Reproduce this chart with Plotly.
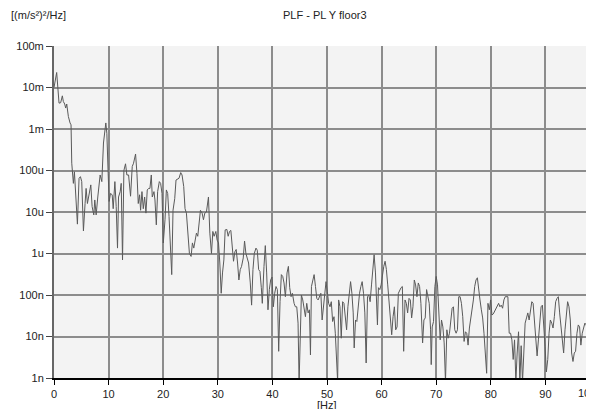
import plotly.graph_objects as go

title_text = "PLF - PL Y floor3"
y_unit = "[(m/s²)²/Hz]"
x_unit = "[Hz]"

freq_hz = [
    0.00, 0.49, 0.92, 1.22, 1.53, 1.71, 1.96, 2.14, 2.33, 2.63, 2.94, 3.12, 3.25, 3.55, 3.74, 4.04,
    4.29, 4.59, 4.84, 5.08, 5.39, 5.69, 5.88, 6.12, 6.43, 6.74, 6.98, 7.29, 7.47, 7.72, 8.02, 8.45,
    8.76, 9.06, 9.49, 9.68, 9.92, 10.10, 10.35, 10.66, 10.84, 11.15, 11.39, 11.63, 11.82, 12.12, 12.31, 12.55,
    12.80, 13.10, 13.35, 13.66, 14.02, 14.33, 14.57, 14.94, 15.19, 15.43, 15.68, 15.86, 16.11, 16.35, 16.60, 16.84,
    17.08, 17.33, 17.57, 17.82, 18.00, 18.31, 18.49, 18.74, 18.98, 19.29, 19.53, 19.78, 20.02, 20.33, 20.58, 20.82,
    21.07, 21.31, 21.56, 21.80, 22.11, 22.35, 22.60, 22.90, 23.21, 23.45, 23.76, 24.00, 24.25, 24.56, 24.80, 25.11,
    25.35, 25.60, 25.84, 26.09, 26.33, 26.58, 26.82, 27.13, 27.37, 27.62, 27.92, 28.29, 28.54, 28.84, 29.09, 29.33,
    29.64, 29.88, 30.13, 30.37, 30.62, 30.86, 31.11, 31.35, 31.66, 31.90, 32.15, 32.39, 32.64, 32.88, 33.13, 33.37,
    33.62, 33.86, 34.11, 34.35, 34.66, 34.90, 35.15, 35.39, 35.64, 35.95, 36.19, 36.44, 36.68, 36.99, 37.23, 37.48,
    37.72, 37.97, 38.15, 38.46, 38.70, 38.95, 39.19, 39.44, 39.68, 39.93, 40.17, 40.42, 40.66, 40.91, 41.15, 41.40,
    41.64, 41.89, 42.13, 42.38, 42.68, 42.93, 43.17, 43.42, 43.66, 43.97, 44.21, 44.46, 44.70, 44.89, 45.07, 45.31,
    45.56, 45.80, 46.05, 46.29, 46.54, 46.78, 46.97, 47.15, 47.40, 47.64, 47.89, 48.13, 48.38, 48.62, 48.87, 49.11,
    49.36, 49.60, 49.82, 50.06, 50.30, 50.55, 50.79, 51.03, 51.28, 51.52, 51.76, 51.95, 52.13, 52.37, 52.61, 52.86,
    53.10, 53.34, 53.59, 53.83, 54.07, 54.32, 54.56, 54.80, 54.98, 55.23, 55.47, 55.71, 55.96, 56.20, 56.44, 56.69,
    56.93, 57.17, 57.42, 57.66, 57.90, 58.15, 58.39, 58.63, 58.88, 59.12, 59.24, 59.42, 59.67, 59.91, 60.15, 60.40,
    60.64, 60.88, 61.12, 61.37, 61.61, 61.85, 62.10, 62.34, 62.58, 62.83, 63.07, 63.31, 63.56, 63.80, 64.04, 64.29,
    64.53, 64.77, 65.02, 65.26, 65.50, 65.74, 65.99, 66.23, 66.47, 66.72, 66.96, 67.20, 67.51, 67.75, 67.99, 68.24,
    68.48, 68.72, 68.97, 69.09, 69.27, 69.51, 69.76, 70.00, 70.24, 70.49, 70.73, 70.97, 71.22, 71.46, 71.70, 71.95,
    72.19, 72.43, 72.67, 72.92, 73.16, 73.40, 73.65, 73.89, 74.13, 74.38, 74.62, 74.86, 75.11, 75.35, 75.59, 75.84,
    76.08, 76.32, 76.57, 76.81, 77.05, 77.29, 77.54, 77.78, 78.02, 78.27, 78.51, 78.75, 79.00, 79.24, 79.48, 79.73,
    79.97, 80.21, 80.46, 80.70, 80.94, 81.19, 81.43, 81.67, 81.91, 82.16, 82.40, 82.64, 82.89, 83.13, 83.37, 83.62,
    83.86, 84.10, 84.35, 84.59, 84.83, 85.08, 85.32, 85.56, 85.81, 86.05, 86.29, 86.54, 86.78, 87.02, 87.26, 87.51,
    87.75, 87.99, 88.24, 88.48, 88.72, 88.97, 89.21, 89.45, 89.70, 89.94, 90.18, 90.43, 90.67, 90.91, 91.16, 91.40,
    91.64, 91.88, 92.13, 92.37, 92.61, 92.86, 93.10, 93.34, 93.59, 93.83, 94.07, 94.32, 94.56, 94.80, 95.05, 95.29,
    95.53, 95.78, 96.02, 96.26, 96.50, 96.75, 96.99, 97.23, 97.48, 97.72, 97.96, 98.21, 98.45, 98.69, 99.00,
]

psd = [
    1.0e-2, 2.3e-2, 4.2e-3, 4.3e-3, 6.3e-3, 4.6e-3, 4.0e-3, 3.2e-3, 4.0e-3, 2.0e-3, 1.4e-3, 1.26e-3, 1.5e-4, 4.9e-5, 9.3e-5, 1.95e-5,
    5.1e-6, 6.5e-5, 7.1e-5, 5.4e-5, 3.5e-6, 1.6e-5, 3.7e-5, 1.6e-5, 2.8e-5, 4.5e-5, 1.35e-5, 8.5e-6, 1.95e-5, 8.5e-6, 2.3e-5, 7.8e-5,
    5.4e-5, 4.6e-4, 1.4e-3, 7.9e-4, 8.5e-5, 1.8e-5, 2.8e-5, 2.6e-5, 1.2e-5, 5.4e-5, 1.35e-5, 1.35e-6, 2.3e-5, 3.1e-5, 4.9e-5, 7.0e-7,
    1.0e-4, 1.45e-4, 7.8e-5, 7.8e-5, 2.4e-5, 1.25e-4, 1.5e-4, 2.5e-4, 8.5e-5, 1.6e-5, 2.6e-5, 1.1e-5, 3.1e-5, 1.2e-5, 2.3e-5, 9.4e-6,
    3.4e-5, 3.7e-5, 3.7e-5, 7.8e-5, 2.3e-5, 3.1e-5, 1.95e-5, 4.9e-6, 3.1e-5, 5.4e-5, 4.9e-5, 2.8e-5, 1.8e-6, 6.5e-6, 3.4e-5, 2.8e-5,
    7.8e-6, 1.0e-6, 3.1e-7, 1.1e-5, 2.1e-5, 5.9e-5, 6.1e-5, 6.5e-5, 8.9e-5, 7.8e-5, 4.1e-5, 1.2e-5, 9.4e-6, 3.1e-6, 1.0e-6, 8.5e-7,
    1.8e-6, 1.35e-6, 2.1e-6, 3.1e-6, 2.6e-6, 5.9e-6, 1.1e-5, 9.4e-6, 6.5e-6, 9.4e-6, 1.0e-5, 2.3e-5, 3.1e-6, 1.0e-6, 3.4e-6, 2.6e-6,
    3.4e-6, 2.1e-6, 1.8e-6, 5.9e-7, 1.1e-7, 3.4e-7, 7.0e-7, 3.7e-6, 3.8e-6, 2.6e-6, 3.4e-6, 3.6e-6, 1.25e-6, 6.5e-7, 1.1e-6, 1.25e-6,
    5.9e-7, 2.3e-7, 4.1e-7, 4.9e-7, 7.8e-7, 2.0e-6, 1.0e-6, 7.8e-7, 5.9e-7, 1.95e-7, 5.7e-8, 4.1e-7, 1.0e-6, 1.35e-6, 1.2e-6, 4.1e-7,
    3.7e-7, 1.5e-7, 6.3e-8, 4.9e-7, 1.55e-6, 3.4e-7, 4.4e-8, 1.35e-7, 2.3e-7, 2.7e-7, 5.2e-8, 1.1e-7, 1.6e-7, 1.35e-7, 4.4e-9, 6.9e-8,
    3.1e-7, 2.8e-7, 1.95e-7, 9.1e-8, 3.4e-7, 4.9e-7, 1.5e-7, 9.1e-8, 1.1e-7, 6.3e-8, 5.2e-8, 5.2e-8, 2.1e-8, 8.0e-10, 1.45e-8, 1.0e-7,
    7.6e-8, 5.2e-8, 3.0e-8, 6.3e-8, 3.7e-8, 4.4e-8, 3.6e-9, 1.6e-7, 2.3e-7, 3.1e-7, 1.6e-7, 8.3e-8, 7.6e-8, 9.1e-8, 1.1e-7, 2.5e-8,
    5.2e-8, 1.5e-7, 2.1e-7, 1.2e-7, 6.3e-8, 5.2e-8, 6.9e-8, 2.3e-8, 3.0e-8, 1.2e-8, 2.8e-9, 8.0e-10, 7.6e-8, 5.2e-8, 9.1e-9, 6.9e-8,
    6.3e-8, 3.0e-8, 1.45e-8, 5.2e-8, 1.1e-7, 2.1e-7, 1.1e-7, 3.7e-8, 5.3e-9, 2.5e-8, 2.3e-8, 5.2e-8, 1.1e-7, 1.6e-7, 2.1e-7, 1.1e-7,
    3.7e-8, 2.3e-9, 9.1e-8, 1.0e-7, 6.9e-8, 1.75e-7, 4.1e-7, 9.3e-7, 3.4e-7, 4.8e-8, 1.9e-8, 1.5e-7, 1.35e-7, 1.75e-7, 3.4e-7, 4.9e-7,
    6.5e-7, 4.1e-7, 1.75e-7, 6.3e-8, 1.9e-8, 1.1e-8, 3.0e-8, 5.2e-8, 1.45e-8, 1.7e-8, 1.1e-7, 1.35e-7, 1.5e-7, 1.6e-7, 4.4e-9, 7.6e-8,
    6.3e-8, 3.7e-8, 8.3e-8, 7.6e-8, 2.8e-8, 5.2e-8, 2.3e-7, 1.75e-7, 9.1e-8, 1.95e-7, 1.6e-7, 6.3e-8, 7.0e-9, 2.5e-8, 2.8e-8, 1.35e-7,
    1.0e-7, 6.3e-8, 1.45e-8, 2.1e-9, 1.7e-8, 2.3e-8, 1.6e-7, 2.8e-7, 1.75e-7, 4.4e-8, 8.3e-9, 2.5e-8, 1.7e-8, 7.0e-9, 8.0e-10, 1.45e-8,
    9.1e-9, 1.2e-8, 3.0e-8, 4.8e-8, 5.2e-8, 1.45e-8, 1.2e-8, 1.45e-8, 9.1e-8, 9.1e-8, 6.3e-8, 3.0e-8, 7.6e-9, 1.3e-8, 1.2e-8, 6.2e-9,
    1.6e-8, 2.8e-8, 3.7e-8, 7.6e-8, 1.6e-7, 2.3e-7, 2.6e-7, 1.6e-7, 7.6e-8, 4.4e-8, 2.8e-8, 1.2e-8, 4.0e-9, 1.3e-9, 6.3e-8, 4.4e-8,
    7.6e-8, 3.3e-8, 3.5e-8, 4.0e-8, 4.8e-8, 5.2e-8, 6.3e-8, 5.2e-8, 5.7e-8, 4.8e-8, 7.6e-8, 9.1e-8, 9.1e-8, 9.1e-8, 1.2e-8, 1.2e-8,
    8.3e-9, 2.8e-9, 8.3e-9, 8.0e-10, 4.0e-9, 1.3e-8, 8.0e-10, 6.0e-9, 8.0e-10, 3.0e-9, 2.1e-8, 2.8e-8, 3.7e-8, 2.5e-8, 4.4e-8, 6.9e-8,
    6.3e-8, 2.5e-8, 7.0e-9, 3.4e-9, 8.3e-9, 3.0e-8, 5.2e-8, 5.7e-8, 2.1e-8, 5.8e-9, 1.4e-9, 2.8e-9, 1.2e-8, 2.5e-8, 2.1e-8, 1.6e-8,
    3.0e-8, 6.9e-8, 8.3e-8, 9.1e-8, 3.7e-8, 1.45e-8, 7.6e-9, 4.0e-9, 1.45e-8, 4.0e-8, 6.9e-8, 5.2e-8, 2.5e-8, 4.0e-9, 2.5e-9, 4.0e-9,
    4.4e-9, 1.2e-8, 1.9e-8, 1.7e-8, 6.2e-9, 1.2e-8, 1.7e-8, 2.1e-8, 1.9e-8, 1.2e-8, 1.9e-8, 2.1e-8, 2.3e-8, 2.5e-8, 2.5e-8,
]

x_tick_vals = [0, 10, 20, 30, 40, 50, 60, 70, 80, 90, 100]
x_tick_text = ["0", "10", "20", "30", "40", "50", "60", "70", "80", "90", ""]
x_last_label = "100"
y_tick_vals = [1e-1, 1e-2, 1e-3, 1e-4, 1e-5, 1e-6, 1e-7, 1e-8, 1e-9]
y_tick_text = ["100m", "10m", "1m", "100u", "10u", "1u", "100n", "10n", "1n"]

font_family = "Liberation Sans, Arial, sans-serif"
txt_color = "#222222"

fig = go.Figure()
fig.add_trace(go.Scatter(
    x=freq_hz, y=psd, mode="lines",
    line=dict(color="#5a5a5a", width=1),
    hoverinfo="skip", showlegend=False,
))

fig.update_layout(
    width=594, height=409,
    margin=dict(l=46, r=2, t=38, b=39, autoexpand=False),
    paper_bgcolor="white",
    plot_bgcolor="#f3f3f3",
    font=dict(family=font_family, size=11, color=txt_color),
    showlegend=False,
    xaxis=dict(
        range=[0, 100], automargin=False,
        tickmode="array", tickvals=x_tick_vals, ticktext=x_tick_text,
        showgrid=True, gridcolor="#8c8c8c", gridwidth=1.5,
        zeroline=False,
        showline=True, linecolor="#000000", linewidth=1.5,
        ticks="outside", ticklen=5, tickcolor="#000000", tickwidth=1,
        tickfont=dict(size=11, color=txt_color),
    ),
    yaxis=dict(
        type="log", range=[-9, -1], automargin=False,
        tickmode="array", tickvals=y_tick_vals, ticktext=y_tick_text,
        showgrid=True, gridcolor="#8c8c8c", gridwidth=1.5,
        zeroline=False,
        showline=True, linecolor="#666666", linewidth=2,
        ticks="outside", ticklen=6, tickcolor="#444444", tickwidth=1,
        tickfont=dict(size=11, color=txt_color),
    ),
    annotations=[
        dict(text=title_text, xref="paper", yref="paper", x=0.496, y=1.093,
             xanchor="center", yanchor="middle", showarrow=False,
             font=dict(size=11, color=txt_color)),
        dict(text=y_unit, xref="paper", yref="paper", x=-0.083, y=1.093,
             xanchor="left", yanchor="middle", showarrow=False,
             font=dict(size=11, color=txt_color)),
        dict(text=x_unit, xref="x", yref="paper", x=50, y=-0.058,
             xanchor="center", yanchor="top", showarrow=False,
             font=dict(size=11, color=txt_color)),
        dict(text=x_last_label, xref="paper", yref="paper", x=0.997, y=-0.045,
             xanchor="right", yanchor="middle", showarrow=False,
             font=dict(size=11, color=txt_color)),
    ],
)

fig.write_html("out.html")
